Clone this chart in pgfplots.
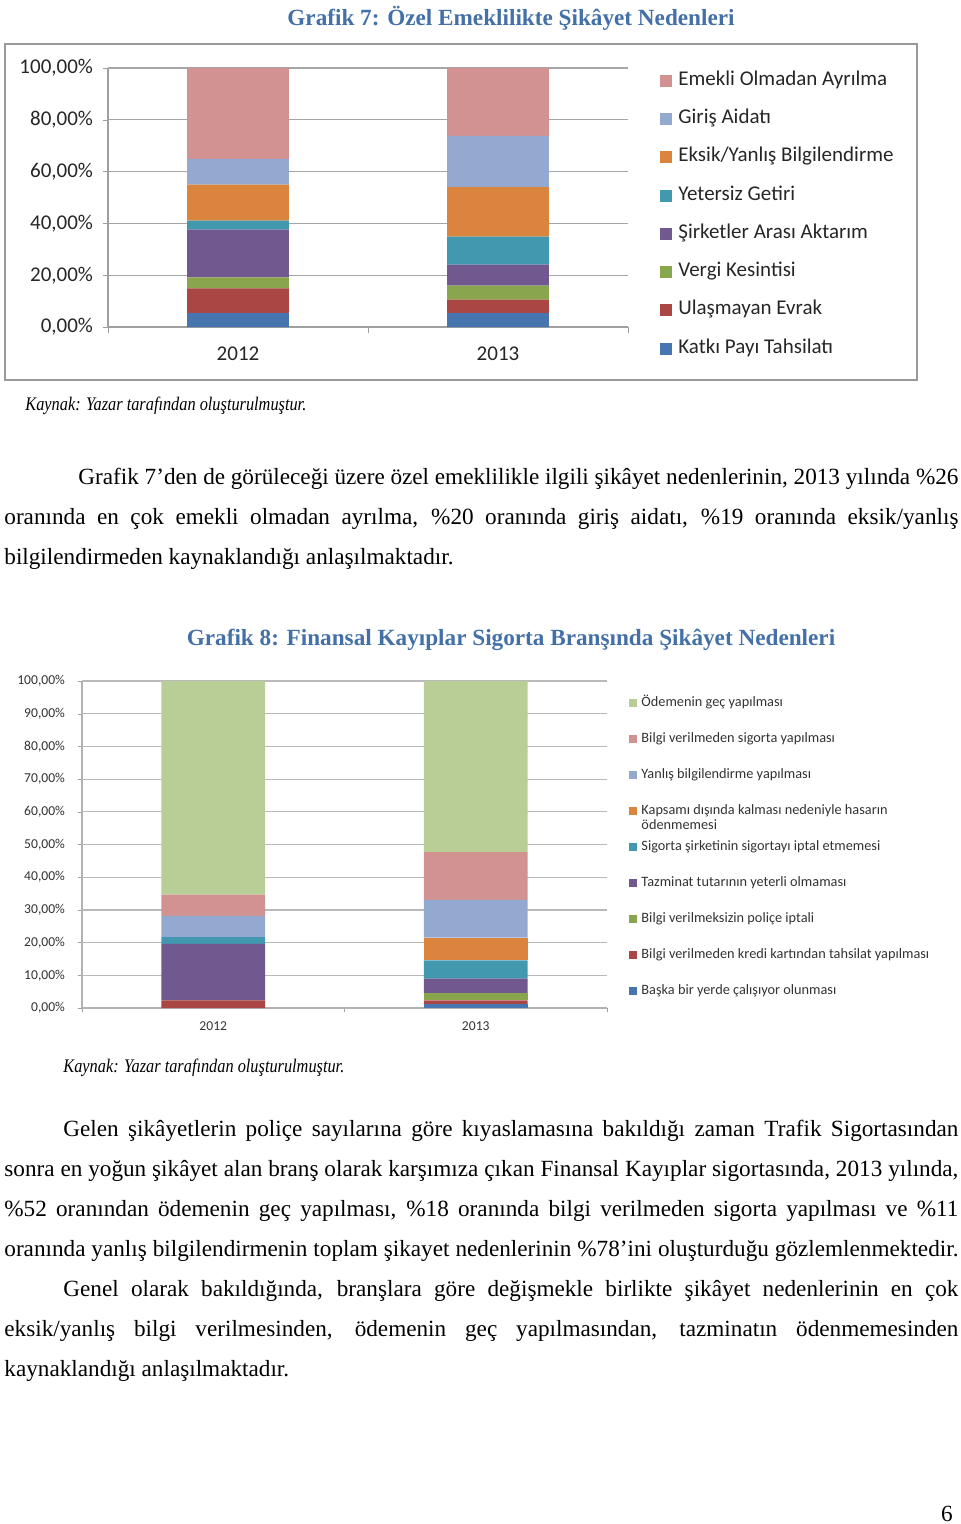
\documentclass[border=0pt]{standalone}
\usepackage{fontspec}
\setmainfont{Liberation Serif}
\newfontfamily\chartfont{Carlito}
\usepackage{pgfplots}
\pgfplotsset{compat=1.18}

\definecolor{titleblue}{RGB}{68,112,168}
\definecolor{cBlue}{RGB}{70,117,175}
\definecolor{cRed}{RGB}{170,70,67}
\definecolor{cGreen}{RGB}{137,165,78}
\definecolor{cPurple}{RGB}{113,88,143}
\definecolor{cTeal}{RGB}{65,152,175}
\definecolor{cOrange}{RGB}{219,132,61}
\definecolor{cLBlue}{RGB}{147,169,207}
\definecolor{cPink}{RGB}{209,146,145}
\definecolor{cLGreen}{RGB}{185,205,150}

\newcommand\body{\fontsize{11.6}{14}\selectfont}
\newcommand\kaynak{\scalebox{0.85}[1]{\fontsize{9.6}{11}\itshape\selectfont Kaynak: Yazar tarafından oluşturulmuştur.}}

\pgfplotsset{
  stackbars/.style={
    scale only axis, ybar stacked,
    xmin=-0.5, xmax=1.5, ymin=0, ymax=100,
    xtick={0,1}, xticklabels={2012,2013},
    minor xtick={-0.5,0.5,1.5},
    axis x line*=bottom, axis y line*=left,
    axis line style={draw=gray!75, line width=0.6pt},
    ymajorgrids,
    tick align=outside,
    major x tick style={draw=none},
    minor x tick style={draw=gray!75},
    y tick style={draw=gray!75},
    yticklabel={\pgfmathprintnumber[assume math mode=true,fixed,fixed zerofill,precision=2,use comma]{\tick}\%},
    every axis plot/.append style={draw=none},
    reverse legend, legend cell align=left,
  },
}

\begin{document}
\begin{tikzpicture}
\path[use as bounding box] (0,0) rectangle (480pt,-762pt);
\begin{scope}[x=0.5pt,y=-0.5pt]
  % Grafik 7
  \node[anchor=base, inner sep=0, text=titleblue, font=\bfseries\body] at (511,26) {Grafik 7: Özel Emeklilikte Şikâyet Nedenleri};
  \draw[gray!80, line width=1pt] (5,44) rectangle (917,380);
  \node[anchor=base west, inner sep=0] at (25,410) {\kaynak};
  % paragraph 1
  \node[anchor=base west, inner sep=0, font=\body] at (78,484) {\makebox[440pt][s]{Grafik 7’den de görüleceği üzere özel emeklilikle ilgili şikâyet nedenlerinin, 2013 yılında \%26}};
  \node[anchor=base west, inner sep=0, font=\body] at (4,524) {\makebox[477pt][s]{oranında en çok emekli olmadan ayrılma, \%20 oranında giriş aidatı, \%19 oranında eksik/yanlış}};
  \node[anchor=base west, inner sep=0, font=\body] at (4,564) {bilgilendirmeden kaynaklandığı anlaşılmaktadır.};
  % Grafik 8
  \node[anchor=base, inner sep=0, text=titleblue, font=\bfseries\body] at (511,645) {Grafik 8: Finansal Kayıplar Sigorta Branşında Şikâyet Nedenleri};
  \node[anchor=base west, inner sep=0] at (63,1072) {\kaynak};
  % paragraph 2
  \node[anchor=base west, inner sep=0, font=\body] at (63,1136) {\makebox[447.5pt][s]{Gelen şikâyetlerin poliçe sayılarına göre kıyaslamasına bakıldığı zaman Trafik Sigortasından}};
  \node[anchor=base west, inner sep=0, font=\body] at (4,1176) {\makebox[477pt][s]{sonra en yoğun şikâyet alan branş olarak karşımıza çıkan Finansal Kayıplar sigortasında, 2013 yılında,}};
  \node[anchor=base west, inner sep=0, font=\body] at (4,1216) {\makebox[477pt][s]{\%52 oranından ödemenin geç yapılması, \%18 oranında bilgi verilmeden sigorta yapılması ve \%11}};
  \node[anchor=base west, inner sep=0, font=\body] at (4,1256) {\makebox[477pt][s]{oranında yanlış bilgilendirmenin toplam şikayet nedenlerinin \%78’ini oluşturduğu gözlemlenmektedir.}};
  % paragraph 3
  \node[anchor=base west, inner sep=0, font=\body] at (63,1296) {\makebox[447.5pt][s]{Genel olarak bakıldığında, branşlara göre değişmekle birlikte şikâyet nedenlerinin en çok}};
  \node[anchor=base west, inner sep=0, font=\body] at (4,1336) {\makebox[477pt][s]{eksik/yanlış bilgi verilmesinden, ödemenin geç yapılmasından, tazminatın ödenmemesinden}};
  \node[anchor=base west, inner sep=0, font=\body] at (4,1376) {kaynaklandığı anlaşılmaktadır.};
  \node[anchor=base east, inner sep=0, font=\body] at (953,1521) {6};
\end{scope}

% Grafik 7: Özel emeklilik
\begin{axis}[stackbars,
  at={(54pt,-163.5pt)}, anchor=south west,
  width=260pt, height=129.5pt,
  bar width=0.392,
  ytick={0,20,...,100},
  grid style={gray!70, line width=0.6pt},
  major tick length=2.5pt, minor tick length=3pt,
  tick label style={font=\chartfont\fontsize{10.5}{12}\selectfont, text=black!85},
  yticklabel style={xshift=-1.5pt},
  xticklabel style={yshift=-4pt},
  legend image code/.code={\fill[#1] (0pt,-3pt) rectangle (6pt,3pt);},
  legend style={at={(1.0615,0.997)}, anchor=north west, draw=none, fill=none,
    inner sep=0pt, row sep=7.65pt, column sep=2pt,
    font=\chartfont\fontsize{10.5}{12}\selectfont, text=black!85,
    nodes={inner sep=1pt, text height=7pt, text depth=2.5pt}},
]
\addplot[fill=cBlue]   coordinates {(0,5.4)  (1,5.4)};  \addlegendentry{Katkı Payı Tahsilatı}
\addplot[fill=cRed]    coordinates {(0,9.5)  (1,5.2)};  \addlegendentry{Ulaşmayan Evrak}
\addplot[fill=cGreen]  coordinates {(0,4.3)  (1,5.4)};  \addlegendentry{Vergi Kesintisi}
\addplot[fill=cPurple] coordinates {(0,18.4) (1,8.1)};  \addlegendentry{Şirketler Arası Aktarım}
\addplot[fill=cTeal]   coordinates {(0,3.5)  (1,10.8)}; \addlegendentry{Yetersiz Getiri}
\addplot[fill=cOrange] coordinates {(0,13.9) (1,19.1)}; \addlegendentry{Eksik/Yanlış Bilgilendirme}
\addplot[fill=cLBlue]  coordinates {(0,9.9)  (1,19.8)}; \addlegendentry{Giriş Aidatı}
\addplot[fill=cPink]   coordinates {(0,35.1) (1,26.2)}; \addlegendentry{Emekli Olmadan Ayrılma}
\end{axis}

% Grafik 8: Finansal kayıplar
\begin{axis}[stackbars,
  at={(41pt,-504pt)}, anchor=south west,
  width=262.5pt, height=163.5pt,
  bar width=0.396,
  ytick={0,10,...,100},
  grid style={gray!55, line width=0.6pt},
  axis line style={draw=gray!60, line width=0.6pt},
  major tick length=2pt, minor tick length=2pt,
  tick label style={font=\chartfont\fontsize{6.8}{8}\selectfont, text=black!80},
  yticklabel style={xshift=-3pt},
  xticklabel style={yshift=-1.5pt},
  legend image code/.code={\fill[#1] (0pt,-2pt) rectangle (4pt,2pt);},
  legend style={at={(1.042,0.958)}, anchor=north west, draw=none, fill=none,
    inner sep=0pt, row sep=9.8pt, column sep=1.2pt,
    font=\chartfont\fontsize{7.15}{7.2}\selectfont, text=black!80,
    nodes={inner sep=0.8pt, text height=5pt, text depth=1.6pt}},
]
\addplot[fill=cBlue]   coordinates {(0,0)    (1,1.1)};  \addlegendentry{Başka bir yerde çalışıyor olunması}
\addplot[fill=cRed]    coordinates {(0,2.3)  (1,1.2)};  \addlegendentry{Bilgi verilmeden kredi kartından tahsilat yapılması}
\addplot[fill=cGreen]  coordinates {(0,0)    (1,2.3)};  \addlegendentry{Bilgi verilmeksizin poliçe iptali}
\addplot[fill=cPurple] coordinates {(0,17.3) (1,4.4)};  \addlegendentry{Tazminat tutarının yeterli olmaması}
\addplot[fill=cTeal]   coordinates {(0,2.1)  (1,5.6)};  \addlegendentry{Sigorta şirketinin sigortayı iptal etmemesi}
\addplot[fill=cOrange] coordinates {(0,0)    (1,6.9)};  \addlegendentry{\smash{\begin{tabular}[t]{@{}l@{}}Kapsamı dışında kalması nedeniyle hasarın\\ödenmemesi\end{tabular}}}
\addplot[fill=cLBlue]  coordinates {(0,6.5)  (1,11.6)}; \addlegendentry{Yanlış bilgilendirme yapılması}
\addplot[fill=cPink]   coordinates {(0,6.5)  (1,14.6)}; \addlegendentry{Bilgi verilmeden sigorta yapılması}
\addplot[fill=cLGreen] coordinates {(0,65.3) (1,52.3)}; \addlegendentry{Ödemenin geç yapılması}
\end{axis}
\end{tikzpicture}
\end{document}
